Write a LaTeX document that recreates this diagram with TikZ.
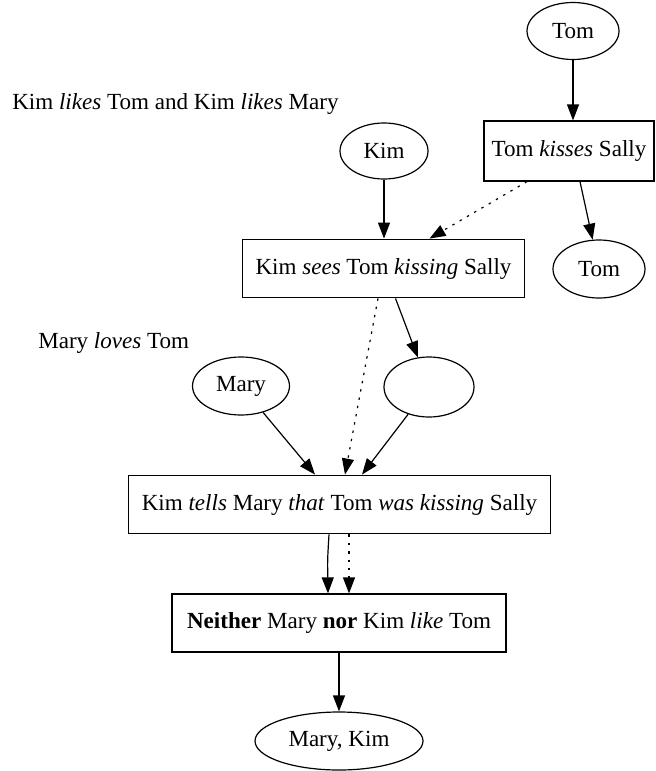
\documentclass[tikz,border=0pt]{standalone}
\usepackage{fontspec}
\setmainfont{Liberation Serif}
\usetikzlibrary{shapes.geometric,arrows.meta,calc}
\tikzset{
  base/.style={draw, line width=0.9pt, inner sep=0pt, font=\fontsize{17.3}{19}\selectfont},
  ell/.style={base, ellipse},
  boxn/.style={base, rectangle},
  lbl/.style={inner sep=0pt, anchor=west, font=\fontsize{17.3}{19}\selectfont},
  arr/.style={line width=0.9pt, -{Triangle[length=12pt,width=9pt]}},
  dotarr/.style={arr, dash pattern=on 1.8pt off 4.5pt}
}
\begin{document}
\begin{tikzpicture}[x=0.75pt,y=-0.75pt]
\useasboundingbox (0,0) rectangle (656,771);
% nodes
\node[ell, minimum width=69pt, minimum height=42.75pt] (tomT) at (573,31) {Tom};
\node[lbl] (lab1) at (12,104) {Kim \textit{likes} Tom and Kim \textit{likes} Mary};
\node[ell, minimum width=66pt, minimum height=42pt] (kim) at (384,151) {Kim};
\node[boxn, minimum width=127.5pt, minimum height=45pt] (tks) at (569,151) {Tom \textit{kisses} Sally};
\node[boxn, minimum width=212pt, minimum height=44pt] (ksees) at (383.5,268.5) {Kim \textit{sees} Tom \textit{kissing} Sally};
\node[ell, minimum width=69pt, minimum height=43.5pt] (tomR) at (599,269) {Tom};
\node[lbl] (lab2) at (38,343) {Mary \textit{loves} Tom};
\node[ell, minimum width=72.75pt, minimum height=43.5pt] (mary) at (241,386) {Mary};
\node[ell, minimum width=67.5pt, minimum height=45pt] (empty) at (429,387) {};
\node[boxn, minimum width=317pt, minimum height=44pt] (ktells) at (339.5,504.5) {Kim \textit{tells} Mary \textit{that} Tom \textit{was kissing} Sally};
\node[boxn, minimum width=250.5pt, minimum height=43.5pt] (neither) at (339,623) {\textbf{Neither} Mary \textbf{nor} Kim \textit{like} Tom};
\node[ell, minimum width=126pt, minimum height=43.5pt] (mk) at (339,741) {Mary, Kim};
% edges
\draw[arr] (tomT.south) -- (tomT.south |- tks.north);
\draw[arr] (kim.south) -- (kim.south |- ksees.north);
\draw[dotarr] ($(tks.south)+(-42,0)$) -- ($(ksees.north)+(46,0)$);
\draw[arr] ($(tks.south)+(11,0)$) -- (tomR);
\draw[arr] ($(ksees.south)+(12,0)$) -- (empty);
\draw[dotarr] ($(ksees.south)+(-5.5,0)$) -- ($(ktells.north)+(5.5,0)$);
\draw[arr] (mary) -- ($(ktells.north)+(-24.5,0)$);
\draw[arr] (empty) -- ($(ktells.north)+(22.5,0)$);
\draw[arr] ($(ktells.south)+(-10.5,0)$) .. controls ($(ktells.south)+(-12,25)$) .. ($(neither.north)+(-11,0)$);
\draw[dotarr] ($(ktells.south)+(9.5,0)$) -- ($(neither.north)+(10,0)$);
\draw[arr] (neither.south) -- (mk.north);
\end{tikzpicture}
\end{document}
